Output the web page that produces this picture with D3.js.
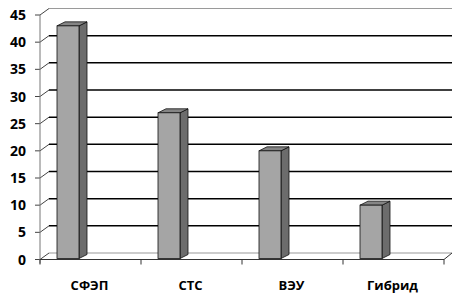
<!DOCTYPE html>
<html>
<head>
<meta charset="utf-8">
<script src="https://cdn.jsdelivr.net/npm/d3@7"></script>
<style>
  body { margin: 0; background: #fff; }
  text { font-family: "Open Sans", sans-serif; font-weight: bold; fill: #000; }
</style>
</head>
<body>
<div id="chart"></div>
<script>
// data
var categories = ["СФЭП", "СТС", "ВЭУ", "Гибрид"];
var values = [43, 27, 20, 10];
var yTicks = [0, 5, 10, 15, 20, 25, 30, 35, 40, 45];

var width = 455, height = 300;
// 3d offsets for wall and bars
var wdx = 9, wdy = -6.5;
var bdx = 8, bdy = -4;

var svg = d3.select("#chart")
  .append("svg")
    .attr("width", width)
    .attr("height", height);

var x = d3.scaleBand()
  .domain(categories)
  .range([40, 444]);

var y = d3.scaleLinear()
  .domain([0, 45])
  .range([259.5, 15]);

var right = x.range()[1];
var wallRight = 452;

// back wall gridlines
svg.selectAll(".grid")
  .data(yTicks)
  .enter()
  .append("line")
    .attr("class", "grid")
    .attr("x1", 40 + wdx)
    .attr("x2", wallRight)
    .attr("y1", function(d){ return y(d) + wdy; })
    .attr("y2", function(d){ return y(d) + wdy; })
    .attr("stroke", function(d){ return (d == 0 || d == 45) ? "#9a9a9a" : "#000"; })
    .attr("stroke-width", function(d){ return (d == 0 || d == 45) ? 1.2 : 1.5; });

// slanted connectors from front axis to wall
svg.selectAll(".conn")
  .data(yTicks)
  .enter()
  .append("line")
    .attr("x1", 40)
    .attr("x2", 40 + wdx)
    .attr("y1", function(d){ return y(d); })
    .attr("y2", function(d){ return y(d) + wdy; })
    .attr("stroke", "#444")
    .attr("stroke-width", 1);

// small ticks left of axis
svg.selectAll(".ytick")
  .data(yTicks)
  .enter()
  .append("line")
    .attr("x1", 35)
    .attr("x2", 40)
    .attr("y1", function(d){ return y(d); })
    .attr("y2", function(d){ return y(d); })
    .attr("stroke", "#444")
    .attr("stroke-width", 1);

// front vertical axis
svg.append("line")
  .attr("x1", 40).attr("x2", 40)
  .attr("y1", y(45)).attr("y2", y(0) + 4)
  .attr("stroke", "#777")
  .attr("stroke-width", 1);

// floor: front edge and right side
svg.append("line")
  .attr("x1", 40).attr("x2", right)
  .attr("y1", y(0)).attr("y2", y(0))
  .attr("stroke", "#333")
  .attr("stroke-width", 1);
svg.append("line")
  .attr("x1", right).attr("x2", wallRight)
  .attr("y1", y(0)).attr("y2", y(0) + wdy)
  .attr("stroke", "#333")
  .attr("stroke-width", 1);

// category ticks on floor
var catEdges = categories.map(function(c){ return x(c); }).concat([right]);
svg.selectAll(".xtick")
  .data(catEdges)
  .enter()
  .append("line")
    .attr("x1", function(d){ return d; })
    .attr("x2", function(d){ return d; })
    .attr("y1", y(0))
    .attr("y2", y(0) + 5)
    .attr("stroke", "#333")
    .attr("stroke-width", 1);

// bars
var barOff = 17, barW = 22;
var bars = svg.selectAll(".bar")
  .data(values)
  .enter()
  .append("g")
    .attr("class", "bar");

// side face
bars.append("path")
  .attr("d", function(d, i){
    var x0 = x(categories[i]) + barOff + barW, y0 = y(d), yb = y(0) - 1;
    return "M" + x0 + "," + y0 + "L" + (x0 + bdx) + "," + (y0 + bdy) +
      "L" + (x0 + bdx) + "," + (yb + bdy) + "L" + x0 + "," + yb + "Z";
  })
  .attr("fill", "#6c6c6c")
  .attr("stroke", "#111")
  .attr("stroke-width", 0.8);

// top face
bars.append("path")
  .attr("d", function(d, i){
    var x0 = x(categories[i]) + barOff, y0 = y(d);
    return "M" + x0 + "," + y0 + "L" + (x0 + bdx) + "," + (y0 + bdy) +
      "L" + (x0 + barW + bdx) + "," + (y0 + bdy) + "L" + (x0 + barW) + "," + y0 + "Z";
  })
  .attr("fill", "#858585")
  .attr("stroke", "#111")
  .attr("stroke-width", 0.8);

// front face
bars.append("rect")
  .attr("x", function(d, i){ return x(categories[i]) + barOff; })
  .attr("y", function(d){ return y(d); })
  .attr("width", barW)
  .attr("height", function(d){ return y(0) - 1 - y(d); })
  .attr("fill", "#a5a5a5")
  .attr("stroke", "#111")
  .attr("stroke-width", 0.8);

// y labels
svg.selectAll(".ylab")
  .data(yTicks)
  .enter()
  .append("text")
    .attr("x", 26)
    .attr("y", function(d){ return y(d); })
    .attr("dy", "0.36em")
    .attr("text-anchor", "end")
    .style("font-size", "14px")
    .text(function(d){ return d; });

// category labels
svg.selectAll(".xlab")
  .data(categories)
  .enter()
  .append("text")
    .attr("x", function(d){ return x(d) + x.bandwidth() / 2 - 1; })
    .attr("y", 290)
    .attr("text-anchor", "middle")
    .style("font-size", "13px")
    .text(function(d){ return d; });
</script>
</body>
</html>
